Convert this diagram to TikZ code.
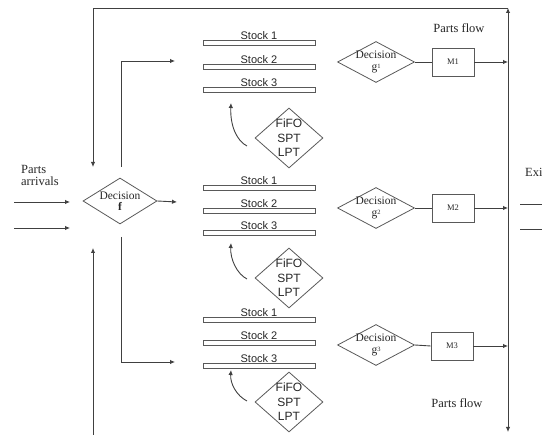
\documentclass[tikz,border=0pt]{standalone}
\usepackage{fontspec}
\setmainfont{Liberation Serif}
\setsansfont{Liberation Sans}
\usetikzlibrary{shapes.geometric,arrows.meta}
\begin{document}
\begin{tikzpicture}[x=1pt,y=-1pt,
  ln/.style={draw=black!75, line width=0.9pt},
  arr/.style={ln, -{Latex[length=5pt,width=4.5pt]}},
  dia/.style={draw=black!65, line width=0.8pt, diamond, inner sep=0pt},
  stockbar/.style={draw=black!65, line width=0.8pt, fill=white, rectangle, minimum width=112pt, minimum height=4.5pt, inner sep=0pt},
  stocklab/.style={font=\sffamily\fontsize{11}{12}\selectfont, inner sep=0pt, text=black!85},
  declab/.style={font=\fontsize{11.5}{12}\selectfont, align=center, inner sep=0pt, text=black!85},
  rulelab/.style={font=\sffamily\fontsize{12}{14.5}\selectfont, align=center, inner sep=0pt, text=black!85},
  mbox/.style={draw=black!65, line width=0.8pt, rectangle, minimum width=42pt, minimum height=28pt, inner sep=0pt, font=\fontsize{8.5}{9}\selectfont, text=black!85},
  plain/.style={font=\fontsize{12.5}{14}\selectfont, inner sep=0pt, text=black!85, align=left}
]
\useasboundingbox (0,0) rectangle (542,435);
\clip (0,0) rectangle (542,435);

% frame coordinates
\coordinate (topL) at (93,8);
\coordinate (topR) at (508,8);
\coordinate (botR) at (508,432);
\coordinate (botL) at (93,440);
\coordinate (fdown) at (93,167);
\coordinate (fup) at (93,248);

% decision f
\node[dia, minimum width=74pt, minimum height=46pt,
      label={[declab]center:Decision\\[-1pt]\textbf{f}}] (df) at (120,201) {};

% parts arrivals
\node[plain, anchor=west] (arrivals) at (21,175) {Parts\\[-2pt]arrivals};
\coordinate (a1s) at (14,202); \coordinate (a1e) at (70,202);
\coordinate (a2s) at (14,228); \coordinate (a2e) at (70,228);
\draw[arr] (a1s) -- (a1e);
\draw[arr] (a2s) -- (a2e);

% branches from decision f
\coordinate (fr) at (177,202);
\coordinate (ftop0) at (121,167); \coordinate (ftop1) at (121,61); \coordinate (ftop2) at (175,61);
\coordinate (fbot0) at (121,237); \coordinate (fbot1) at (121,362); \coordinate (fbot2) at (175,362);
\draw[arr] (df.east) -- (fr);
\draw[arr] (ftop0) -- (ftop1) -- (ftop2);
\draw[arr] (fbot0) -- (fbot1) -- (fbot2);

% frame loop
\draw[ln, {Latex[length=5pt,width=4.5pt]}-{Latex[length=5pt,width=4.5pt]}] (topR) -- (botR);
\draw[arr] (topR) -- (topL) -- (fdown);
\draw[arr] (botL) -- (fup);

% stocks group 1
\node[stockbar, label={[stocklab,label distance=1pt]above:Stock 1}] (s11) at (259,43) {};
\node[stockbar, label={[stocklab,label distance=1pt]above:Stock 2}] (s12) at (259,67) {};
\node[stockbar, label={[stocklab,label distance=1pt]above:Stock 3}] (s13) at (259,90) {};
% stocks group 2
\node[stockbar, label={[stocklab,label distance=1pt]above:Stock 1}] (s21) at (259,188) {};
\node[stockbar, label={[stocklab,label distance=1pt]above:Stock 2}] (s22) at (259,211) {};
\node[stockbar, label={[stocklab,label distance=1pt]above:Stock 3}] (s23) at (259,233) {};
% stocks group 3
\node[stockbar, label={[stocklab,label distance=1pt]above:Stock 1}] (s31) at (259,320) {};
\node[stockbar, label={[stocklab,label distance=1pt]above:Stock 2}] (s32) at (259,343) {};
\node[stockbar, label={[stocklab,label distance=1pt]above:Stock 3}] (s33) at (259,366) {};

% rule diamonds
\node[dia, minimum width=68pt, minimum height=60pt, label={[rulelab]center:FiFO\\SPT\\LPT}] (r1) at (289,138) {};
\node[dia, minimum width=68pt, minimum height=60pt, label={[rulelab]center:FiFO\\SPT\\LPT}] (r2) at (289,278) {};
\node[dia, minimum width=68pt, minimum height=60pt, label={[rulelab]center:FiFO\\SPT\\LPT}] (r3) at (289,402) {};

% curved arrows
\coordinate (c1s) at (247,146); \coordinate (c1e) at (231,103);
\coordinate (c2s) at (247,279); \coordinate (c2e) at (231,243);
\coordinate (c3s) at (247,401); \coordinate (c3e) at (231,370);
\draw[arr] (c1s) .. controls (237,141) and (230,126) .. (c1e);
\draw[arr] (c2s) .. controls (237,274) and (230,259) .. (c2e);
\draw[arr] (c3s) .. controls (237,396) and (230,384) .. (c3e);

% decisions g
\node[dia, minimum width=77pt, minimum height=41pt,
      label={[declab]center:Decision\\g\raisebox{0.35ex}{\fontsize{6.5}{6.5}\selectfont 1}}] (g1) at (376,62) {};
\node[dia, minimum width=77pt, minimum height=41pt,
      label={[declab]center:Decision\\g\raisebox{0.35ex}{\fontsize{6.5}{6.5}\selectfont 2}}] (g2) at (376,208) {};
\node[dia, minimum width=77pt, minimum height=41pt,
      label={[declab]center:Decision\\g\raisebox{0.35ex}{\fontsize{6.5}{6.5}\selectfont 3}}] (g3) at (376,345) {};

% machines
\node[mbox] (m1) at (453,62) {M1};
\node[mbox] (m2) at (453,208) {M2};
\node[mbox] (m3) at (452,346) {M3};

\draw[ln] (g1.east) -- (m1.west);
\draw[ln] (g2.east) -- (m2.west);
\draw[ln] (g3.east) -- (m3.west);
\draw[arr] (m1.east) -- (m1.east -| botR);
\draw[arr] (m2.east) -- (m2.east -| botR);
\draw[arr] (m3.east) -- (m3.east -| botR);

% parts flow labels
\node[plain] (pf1) at (459,28) {Parts flow};
\node[plain] (pf2) at (457,403) {Parts flow};

% exit
\node[plain, anchor=west] (exit) at (525,172) {Exit};
\coordinate (e1s) at (520,204); \coordinate (e1e) at (550,204);
\coordinate (e2s) at (520,229); \coordinate (e2e) at (550,229);
\draw[ln] (e1s) -- (e1e);
\draw[ln] (e2s) -- (e2e);
\end{tikzpicture}
\end{document}
